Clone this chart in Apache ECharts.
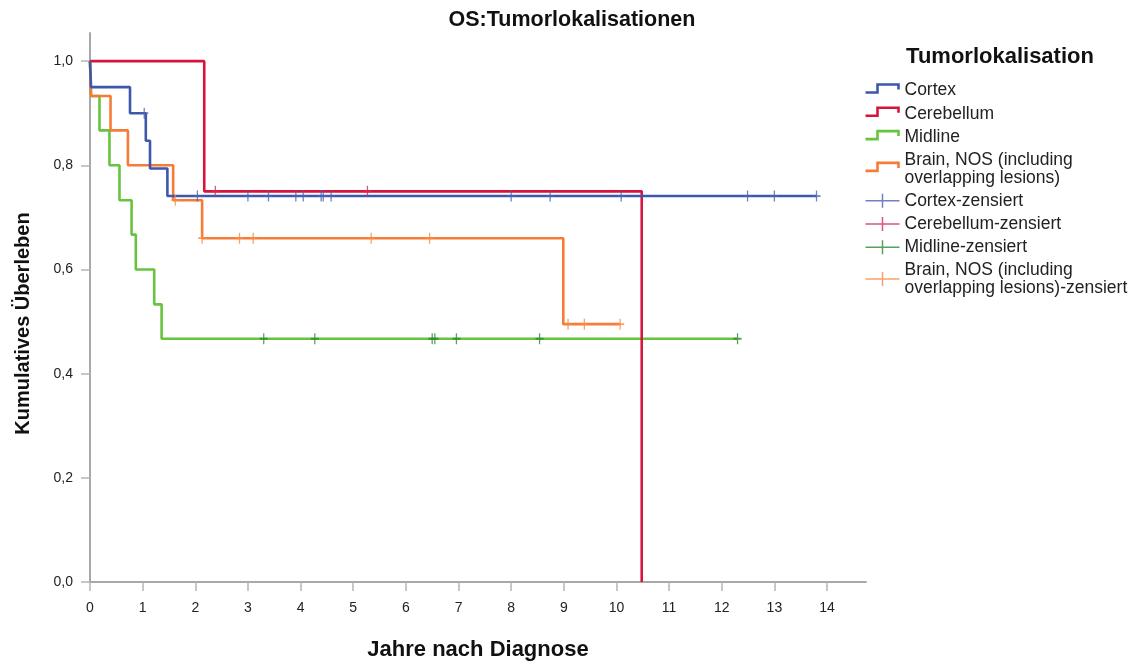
<!DOCTYPE html>
<html>
<head>
<meta charset="utf-8">
<script src="https://cdn.jsdelivr.net/npm/echarts@6/dist/echarts.min.js"></script>
<style>
  html, body { margin: 0; padding: 0; background: #ffffff; }
  #chart { width: 1134px; height: 662px; }
</style>
</head>
<body>
<div id="chart"></div>
<script>
// Kaplan-Meier step points per tumour site: [years after diagnosis, cumulative survival]
const cortexSteps = [[0, 1], [0.02, 0.95], [0.76, 0.90], [1.06, 0.847], [1.14, 0.794], [1.47, 0.741], [13.80, 0.741]];
const cerebellumSteps = [[0, 1], [2.17, 0.75], [10.48, 0]];
const midlineSteps = [[0, 1], [0.02, 0.933], [0.18, 0.867], [0.37, 0.80], [0.56, 0.733], [0.79, 0.667], [0.87, 0.60], [1.22, 0.533], [1.36, 0.467], [12.30, 0.467]];
const brainSteps = [[0, 1], [0.02, 0.933], [0.39, 0.867], [0.72, 0.80], [1.58, 0.733], [2.13, 0.66], [8.99, 0.495], [10.07, 0.495]];

// Censored cases: [years, survival level at that time]
const cortexCensored = [[1.03, 0.90], [2.04, 0.741], [3.00, 0.741], [3.39, 0.741], [3.91, 0.741], [4.05, 0.741], [4.39, 0.741], [4.43, 0.741], [4.58, 0.741], [8.00, 0.741], [8.74, 0.741], [10.09, 0.741], [12.49, 0.741], [13.00, 0.741], [13.80, 0.741]];
const cerebellumCensored = [[2.38, 0.75], [5.27, 0.75]];
const midlineCensored = [[3.30, 0.467], [4.27, 0.467], [6.50, 0.467], [6.55, 0.467], [6.96, 0.467], [8.54, 0.467], [12.30, 0.467]];
const brainCensored = [[1.62, 0.733], [2.13, 0.66], [2.84, 0.66], [3.10, 0.66], [5.34, 0.66], [6.45, 0.66], [9.08, 0.495], [9.39, 0.495], [10.07, 0.495]];

// Group names and tick labels
const groupNames = ['Cortex', 'Cerebellum', 'Midline', 'Brain, NOS (including\noverlapping lesions)'];
const censoredNames = ['Cortex-zensiert', 'Cerebellum-zensiert', 'Midline-zensiert', 'Brain, NOS (including\noverlapping lesions)-zensiert'];
const xTickValues = [0, 1, 2, 3, 4, 5, 6, 7, 8, 9, 10, 11, 12, 13, 14];
const yTickValues = [0, 0.2, 0.4, 0.6, 0.8, 1.0];

const FONT = '"Liberation Sans", Arial, Helvetica, sans-serif';
const lineColors = ['#3d57ab', '#d6153d', '#66c43e', '#f77b36'];
const censorColors = ['#4a63b3', '#d62a55', '#2e8a34', '#f78a44'];
const stepSets = [cortexSteps, cerebellumSteps, midlineSteps, brainSteps];
const censorSets = [cortexCensored, cerebellumCensored, midlineCensored, brainCensored];
const lineZ = [6, 5, 3, 4];

// Legend glyphs: a small survival step and a censor cross (sized 34 x 14)
const stepIcon = 'path://M0,0 M34,14 M0,9 L12,9 L12,1 L33,1 L33,6';
const crossIcon = 'path://M0,0 M34,14 M0,7 L34,7 M17,0 L17,14';
const censorMark = 'path://M0,5.5 L8,5.5 M4,0 L4,11';

const series = [];
stepSets.forEach(function (steps, i) {
  series.push({
    name: groupNames[i],
    type: 'line',
    step: 'end',
    data: steps,
    symbol: 'none',
    showSymbol: false,
    z: lineZ[i],
    lineStyle: { color: lineColors[i], width: 2.6 },
    itemStyle: { color: lineColors[i] },
    emphasis: { disabled: true }
  });
});
censorSets.forEach(function (pts, i) {
  series.push({
    name: censoredNames[i],
    type: 'scatter',
    data: pts,
    symbol: censorMark,
    symbolSize: [8, 11],
    z: 8,
    itemStyle: { color: censorColors[i], borderColor: censorColors[i], borderWidth: 1.5 },
    emphasis: { disabled: true }
  });
});

const legendData = groupNames.map(function (n, i) {
  return { name: n, icon: stepIcon, itemStyle: { color: 'none', borderColor: lineColors[i], borderWidth: 2.6 } };
}).concat(censoredNames.map(function (n, i) {
  return { name: n, icon: crossIcon, itemStyle: { color: 'none', borderColor: censorColors[i], borderWidth: 1.5 } };
}));

const chart = echarts.init(document.getElementById('chart'), null, { renderer: 'canvas' });
chart.setOption({
  animation: false,
  backgroundColor: '#ffffff',
  textStyle: { fontFamily: FONT },
  title: [
    {
      text: 'OS:Tumorlokalisationen',
      left: 572, top: 9, textAlign: 'center', padding: 0,
      textStyle: { fontFamily: FONT, fontSize: 21.5, fontWeight: 'bold', color: '#111111' }
    },
    {
      text: 'Tumorlokalisation',
      left: 1000, top: 46, textAlign: 'center', padding: 0,
      textStyle: { fontFamily: FONT, fontSize: 22, fontWeight: 'bold', color: '#111111' }
    }
  ],
  legend: {
    orient: 'vertical',
    left: 863, top: 81, padding: 0,
    itemWidth: 34, itemHeight: 14, itemGap: 4.3,
    selectedMode: false,
    textStyle: { fontFamily: FONT, fontSize: 17.5, lineHeight: 18, color: '#222222' },
    data: legendData
  },
  grid: { left: 90, right: 268, top: 33, bottom: 80, outerBoundsMode: 'none' },
  xAxis: {
    type: 'value', min: 0, max: 14.74, interval: 1,
    name: 'Jahre nach Diagnose', nameLocation: 'middle', nameGap: 57,
    nameTextStyle: { fontFamily: FONT, fontSize: 22, fontWeight: 'bold', color: '#111111' },
    axisLine: { show: true, onZero: false, lineStyle: { color: '#a8a8a8', width: 2 } },
    axisTick: { show: true, length: 9, customValues: xTickValues, lineStyle: { color: '#b4b4b4', width: 1.5 } },
    axisLabel: { customValues: xTickValues, margin: 19, fontFamily: FONT, fontSize: 14, color: '#222222' },
    splitLine: { show: false }
  },
  yAxis: {
    type: 'value', min: 0, max: 1.054, interval: 0.2,
    name: 'Kumulatives Überleben', nameLocation: 'middle', nameGap: 57, nameRotate: 90,
    nameTextStyle: { fontFamily: FONT, fontSize: 20, fontWeight: 'bold', color: '#111111', padding: [0, 32, 0, 0] },
    axisLine: { show: true, onZero: false, lineStyle: { color: '#a8a8a8', width: 2 } },
    axisTick: { show: true, length: 9, customValues: yTickValues, lineStyle: { color: '#b4b4b4', width: 1.5 } },
    axisLabel: {
      customValues: yTickValues, margin: 17, fontFamily: FONT, fontSize: 14, color: '#222222',
      formatter: function (v) { return v.toFixed(1).replace('.', ','); }
    },
    splitLine: { show: false }
  },
  series: series
});
</script>
</body>
</html>
